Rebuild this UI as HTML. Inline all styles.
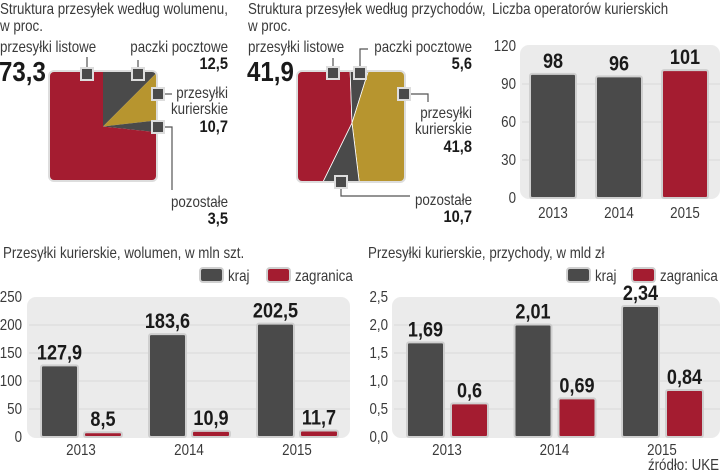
<!DOCTYPE html>
<html><head><meta charset="utf-8"><style>
body{margin:0;background:#fff;width:720px;height:472px;overflow:hidden}
svg{display:block;font-family:"Liberation Sans",sans-serif}
.t{font-size:15.5px;fill:#3a3a3a}
.b{font-weight:bold;fill:#1a1a1a}
</style></head><body>
<svg id="c" width="720" height="472" viewBox="0 0 720 472"></svg>
<script>
// data
const volShares=[73.3,12.5,10.7,3.5];
const volNames=['przesyłki listowe','paczki pocztowe','przesyłki kurierskie','pozostałe'];
const revShares=[41.9,5.6,41.8,10.7];
const opYears=['2013','2014','2015'];
const opValues=[98,96,101];
const opTicks=[0,30,60,90,120];
const years=['2013','2014','2015'];
const volKraj=[127.9,183.6,202.5];
const volZag=[8.5,10.9,11.7];
const volTicks=[0,50,100,150,200,250];
const volLabK=['127,9','183,6','202,5'];
const volLabZ=['8,5','10,9','11,7'];
const revKraj=[1.69,2.01,2.34];
const revZag=[0.6,0.69,0.84];
const revTicks=['0,0','0,5','1,0','1,5','2,0','2,5'];
const revLabK=['1,69','2,01','2,34'];
const revLabZ=['0,6','0,69','0,84'];

const NS='http://www.w3.org/2000/svg';
const svg=document.getElementById('c');
const RED='#a41c30',GRAY='#4a4a4a',GOLD='#b7952f',BG='#ebebeb';
const SX=0.86;
function mk(tag,at,parent){const e=document.createElementNS(NS,tag);for(const k in at)e.setAttribute(k,at[k]);(parent||svg).appendChild(e);return e;}
function txt(x,y,s,cls,anchor,size,fill,name){const e=mk('text',{x:x,y:y,class:cls||'t','text-anchor':anchor||'start',transform:'translate('+x+',0) scale('+SX+',1) translate('+(-x)+',0)'});if(size)e.setAttribute('font-size',size);if(fill)e.setAttribute('fill',fill);e.textContent=s;


return e;}
function marker(x,y){const r=mk('rect',{x:x-6,y:y-6,width:12,height:12,fill:'#4a4a4a',stroke:'#ddd','stroke-width':2});

}
function line(pts){const p=mk('polyline',{points:pts,fill:'none',stroke:'#555','stroke-width':1.2});

}

// ---------- Panel 1 ----------
txt(0,14,'Struktura przesyłek według wolumenu,','t','start',null,null,'vol-structure-title');
txt(0,31,'w proc.','t','start',null,null,'vol-structure-subtitle');
(function(){
 const L=49,T=71,W=108,H=110,cx=L+W/2,cy=T+H/2+0.5;
 const cp=mk('clipPath',{id:'sq1'});mk('rect',{x:L,y:T,width:W,height:H,rx:5},cp);
 const g=mk('g',{'clip-path':'url(#sq1)'});
 const order=[1,2,3,0],cols=[RED,GRAY,GOLD,GRAY];
 let a=0;
 order.forEach(i=>{
  const a0=a,a1=a+volShares[i]/100*360;a=a1;
  const pts=[[cx,cy]];
  for(let t=a0;t<=a1+0.001;t+=1){const r=t*Math.PI/180;pts.push([cx+Math.sin(r)*200,cy-Math.cos(r)*200]);}
  const r=a1*Math.PI/180;pts.push([cx+Math.sin(r)*200,cy-Math.cos(r)*200]);
  const p=mk('polygon',{points:pts.map(q=>q.join(',')).join(' '),fill:cols[i]},g);
  
  
 });
 mk('rect',{x:L,y:T,width:W,height:H,rx:5,fill:'none',stroke:'#ddd','stroke-width':2});
})();
line('87,74 87,57');marker(87,74);
line('138,74 138,60');marker(138,74);
line('158,94 172,94');marker(158,94);
line('158,127 172,127 172,190');marker(158,127);
txt(0,52,'przesyłki listowe','t','start',16,'#1a1a1a','vol-listowe-label');
txt(-1,81,'73,3','b','start',28,RED,'vol-listowe-value');
txt(228,52,'paczki pocztowe','t','end',16,'#1a1a1a','vol-paczki-label');
txt(228,69,'12,5','b','end',17,null,'vol-paczki-value');
txt(228,98,'przesyłki','t','end',16,'#1a1a1a');
txt(228,114,'kurierskie','t','end',16,'#1a1a1a');
txt(228,132,'10,7','b','end',17,null,'vol-kurierskie-value');
txt(228,207,'pozostałe','t','end',16,'#1a1a1a');
txt(228,224,'3,5','b','end',17,null,'vol-pozostale-value');

// ---------- Panel 2 ----------
txt(248,14,'Struktura przesyłek według przychodów,','t','start',null,null,'rev-structure-title');
txt(248,31,'w proc.','t','start',null,null,'rev-structure-subtitle');
(function(){
 const L=297,T=71,W=108,H=111,ax=352,ay=123;
 const cp=mk('clipPath',{id:'sq2'});mk('rect',{x:L,y:T,width:W,height:H,rx:5},cp);
 const g=mk('g',{'clip-path':'url(#sq2)'});
 const t1=L+W*(revShares[0]/100)*1.17, t2=t1+W*(revShares[1]/100)*3.3;
 const b1=L+W*(revShares[0]/100)*0.52, b2=b1+W*(revShares[3]/100)*3.4;
 const polys=[
  [[L-5,T-5],[t1,T-5],[ax,ay],[b1,T+H+5],[L-5,T+H+5]],
  [[t1,T-5],[t2,T-5],[ax,ay]],
  [[t2,T-5],[L+W+5,T-5],[L+W+5,T+H+5],[b2,T+H+5],[ax,ay]],
  [[ax,ay],[b2,T+H+5],[b1,T+H+5]]];
 const cols=[RED,GRAY,GOLD,GRAY];
 polys.forEach((pts,i)=>{const p=mk('polygon',{points:pts.map(q=>q.join(',')).join(' '),fill:cols[i],stroke:'#fff','stroke-width':0.8},g);
  
  });
 mk('rect',{x:L,y:T,width:W,height:H,rx:5,fill:'none',stroke:'#ddd','stroke-width':2});
})();
line('333,73 333,58');marker(333,73);
line('360,73 360,49 368,49');marker(360,73);
line('404,94 428,94 428,102');marker(404,94);
line('341,182 341,196 410,196');marker(341,182);
txt(248,52,'przesyłki listowe','t','start',16,'#1a1a1a','rev-listowe-label');
txt(247,81,'41,9','b','start',28,RED,'rev-listowe-value');
txt(472,52,'paczki pocztowe','t','end',16,'#1a1a1a');
txt(472,69,'5,6','b','end',17,null,'rev-paczki-value');
txt(472,118,'przesyłki','t','end',16,'#1a1a1a');
txt(472,134,'kurierskie','t','end',16,'#1a1a1a');
txt(472,152,'41,8','b','end',17,null,'rev-kurierskie-value');
txt(472,205,'pozostałe','t','end',16,'#1a1a1a');
txt(472,222,'10,7','b','end',17,null,'rev-pozostale-value');

function plotBg(x,y,w,h,name){const r=mk('rect',{x:x,y:y,width:w,height:h,rx:9,fill:BG});
 
 }
function bar(x,w,v,y0,sc,col,name){const h=v*sc;const r=mk('rect',{x:x,y:y0-h,width:w,height:h,fill:col,stroke:'#cfcfcf','stroke-width':2,rx:2});
 
 return y0-h;}

// ---------- Panel 3 ----------
txt(492,14,'Liczba operatorów kurierskich','t','start',null,null,'operators-title');
(function(){
 const y0=198,sc=152/120;
 plotBg(520,45,200,154,'operators-plot-bg');
 opTicks.forEach(t=>{const y=y0-t*sc;if(t>0&&t<120)mk('line',{x1:522,x2:720,y1:y,y2:y,stroke:'#d8d8d8'});
  txt(516,y+5,String(t),'t','end',14,'#555','operators-y-tick');});
 const xs=[530,596,662];
 opValues.forEach((v,i)=>{const top=bar(xs[i],46,v,y0,sc,i==2?RED:GRAY,'operators-bar-'+opYears[i]);
  txt(xs[i]+23,top-6,String(v),'b','middle',21,null,'operators-value');
  txt(xs[i]+23,218,opYears[i],'t','middle',18,'#1a1a1a','operators-x-tick');});
})();

function legend(x1,x2){
 [[x1,'kraj',GRAY],[x2,'zagranica',RED]].forEach(l=>{
  const r=mk('rect',{x:l[0],y:268,width:23,height:14,rx:3,fill:l[2],stroke:'#d0d0d0','stroke-width':2});
  
  
  txt(l[0]+28,281,l[1],'t','start',16,'#1a1a1a','legend-'+l[1]);});
}

// ---------- Panel 4 ----------
txt(3,258,'Przesyłki kurierskie, wolumen, w mln szt.','t','start',null,null,'volume-title');
legend(200,267);
(function(){
 const y0=437,sc=140/250;
 plotBg(27,297,323,141,'volume-plot-bg');
 volTicks.forEach(t=>{const y=y0-t*sc;if(t>0&&t<250)mk('line',{x1:29,x2:350,y1:y,y2:y,stroke:'#d8d8d8'});
  txt(22,y+5,String(t),'t','end',14,'#555','volume-y-tick');});
 years.forEach((yr,i)=>{const gx=41+i*108;
  let top=bar(gx,37,volKraj[i],y0,sc,GRAY,'volume-kraj-'+yr);
  txt(gx+18.5,top-6,volLabK[i],'b','middle',21,null,'volume-kraj-value');
  top=bar(gx+43,38,volZag[i],y0,sc,RED,'volume-zagranica-'+yr);
  txt(gx+62,top-6,volLabZ[i],'b','middle',21,null,'volume-zagranica-value');
  txt(gx+40,455,yr,'t','middle',18,'#1a1a1a','volume-x-tick');});
})();

// ---------- Panel 5 ----------
txt(368,258,'Przesyłki kurierskie, przychody, w mld zł','t','start',null,null,'revenue-title');
legend(567,632);
(function(){
 const y0=437,sc=140/2.5;
 plotBg(392,297,328,141,'revenue-plot-bg');
 revTicks.forEach((t,i)=>{const y=y0-i*0.5*sc;if(i>0&&i<5)mk('line',{x1:394,x2:720,y1:y,y2:y,stroke:'#d8d8d8'});
  txt(388,y+5,t,'t','end',14,'#555','revenue-y-tick');});
 years.forEach((yr,i)=>{const gx=407+i*107.5;
  let top=bar(gx,37,revKraj[i],y0,sc,GRAY,'revenue-kraj-'+yr);
  txt(gx+18.5,top-6,revLabK[i],'b','middle',21,null,'revenue-kraj-value');
  top=bar(gx+44,37,revZag[i],y0,sc,RED,'revenue-zagranica-'+yr);
  txt(gx+62.5,top-6,revLabZ[i],'b','middle',21,null,'revenue-zagranica-value');
  txt(gx+40,455,yr,'t','middle',18,'#1a1a1a','revenue-x-tick');});
})();
txt(719,470,'źródło: UKE','t','end',12,'#555','source-note');
</script>
</body></html>
